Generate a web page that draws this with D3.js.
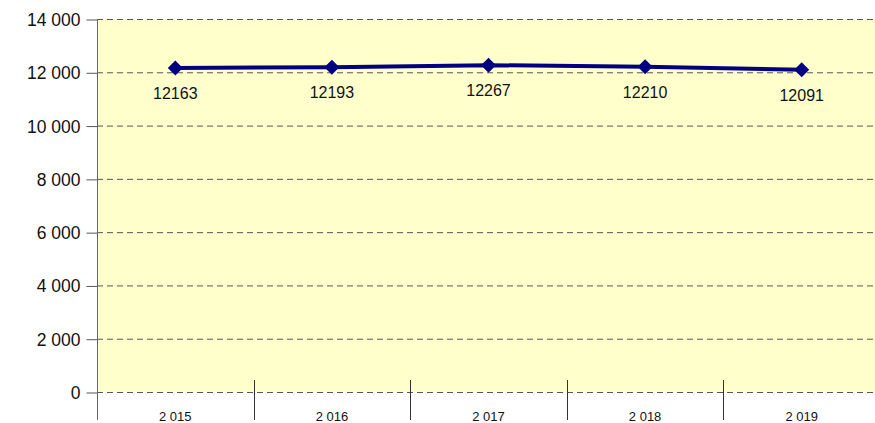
<!DOCTYPE html>
<html>
<head>
<meta charset="utf-8">
<script src="https://cdn.jsdelivr.net/npm/d3@7"></script>
<style>
  body { margin: 0; background: #fff; }
  svg { display: block; font-family: "Liberation Sans", Arial, sans-serif; }
</style>
</head>
<body>
<svg id="chart"></svg>
<script>
const years = ['2 015', '2 016', '2 017', '2 018', '2 019']
const values = [12163, 12193, 12267, 12210, 12091]
const yTicks = [0, 2000, 4000, 6000, 8000, 10000, 12000, 14000]

const width = 875
const height = 423
const margin = { top: 19, right: -5, bottom: 31, left: 97 }

const lineColour = '#000080'
const plotBg = '#ffffcc'

const svg = d3.select('#chart')
  .attr('width', width)
  .attr('height', height)

const xScale = d3.scaleBand()
  .domain(years)
  .range([margin.left, width - margin.right])

const yScale = d3.scaleLinear()
  .domain([0, 14000])
  .range([height - margin.bottom, margin.top])

// plot background
svg.append('rect')
  .attr('x', margin.left)
  .attr('y', margin.top)
  .attr('width', width - margin.right - margin.left)
  .attr('height', yScale(0) - margin.top)
  .attr('fill', plotBg)

// gridlines, dashed
svg.append('g')
  .selectAll('line')
  .data(yTicks)
  .join('line')
    .attr('x1', margin.left)
    .attr('x2', width)
    .attr('y1', d => yScale(d) + 0.5)
    .attr('y2', d => yScale(d) + 0.5)
    .attr('stroke', '#555')
    .attr('stroke-width', 1)
    .attr('stroke-dasharray', '6 4')

// y axis
const yAxis = g => g
  .attr('transform', `translate(${margin.left + 0.5}, 0.5)`)
  .call(d3.axisLeft(yScale)
    .tickValues(yTicks)
    .tickSize(11)
    .tickSizeOuter(0)
    .tickPadding(6)
    .tickFormat(d => d3.format(',')(d).replace(/,/g, ' '))
  )
  .call(g => g.select('.domain').remove())
  .call(g => g.selectAll('.tick line').attr('stroke', '#555'))
  .call(g => g.selectAll('text')
    .attr('font-size', '17.5px')
    .attr('fill', '#111')
    .attr('dy', '0.34em')
  )
svg.append('g').call(yAxis)

// vertical axis line
svg.append('line')
  .attr('x1', margin.left + 0.5)
  .attr('x2', margin.left + 0.5)
  .attr('y1', margin.top)
  .attr('y2', height - 3)
  .attr('stroke', '#666')

// category separators
const bounds = years.slice(1).map(d => xScale(d))
svg.append('g')
  .selectAll('line')
  .data(bounds)
  .join('line')
    .attr('x1', d => Math.round(d) + 0.5)
    .attr('x2', d => Math.round(d) + 0.5)
    .attr('y1', yScale(0) - 12)
    .attr('y2', height - 3)
    .attr('stroke', '#333')
    .attr('stroke-width', 1)

// category labels
svg.append('g')
  .selectAll('text')
  .data(years)
  .join('text')
    .attr('x', d => xScale(d) + xScale.bandwidth() / 2)
    .attr('y', height - 2)
    .attr('text-anchor', 'middle')
    .attr('font-size', '13px')
    .attr('fill', '#111')
    .text(d => d)

const points = years.map((y, i) => ({ year: y, value: values[i] }))
const cx = d => xScale(d.year) + xScale.bandwidth() / 2

// line
svg.append('path')
  .datum(points)
  .attr('fill', 'none')
  .attr('stroke', lineColour)
  .attr('stroke-width', 4)
  .attr('stroke-linejoin', 'round')
  .attr('d', d3.line().x(cx).y(d => yScale(d.value)))

// diamond markers
svg.append('g')
  .selectAll('path')
  .data(points)
  .join('path')
    .attr('transform', d => `translate(${cx(d)}, ${yScale(d.value)})`)
    .attr('d', 'M0,-7.5L7.5,0L0,7.5L-7.5,0Z')
    .attr('fill', lineColour)

// value labels
svg.append('g')
  .selectAll('text')
  .data(points)
  .join('text')
    .attr('x', cx)
    .attr('y', d => yScale(d.value) + 31)
    .attr('text-anchor', 'middle')
    .attr('font-size', '16px')
    .attr('fill', '#111')
    .text(d => d.value)
</script>
</body>
</html>
